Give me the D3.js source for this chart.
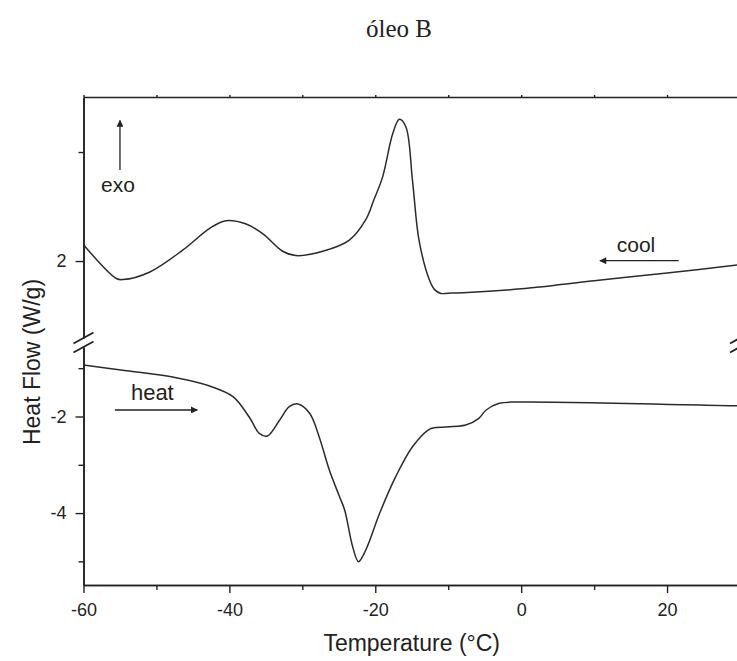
<!DOCTYPE html>
<html>
<head>
<meta charset="utf-8">
<script src="https://cdn.jsdelivr.net/npm/d3@7"></script>
<style>
  body { margin: 0; background: #fff; }
  svg { display: block; }
  text { font-family: "Liberation Sans", Arial, sans-serif; fill: #222; }
</style>
</head>
<body>
<svg id="chart" width="737" height="661"></svg>
<script>
// DSC thermogram of "óleo B": cooling run (upper panel) and heating run (lower panel)
const coolTemp = [-60, -55.5, -54.6, -50.9, -46.4, -42.7, -40.5, -37.7, -35.4, -32.7, -30.9, -27.2,
                  -23.6, -21.3, -20.2, -19.0, -17.6, -16.7, -15.8, -14.9, -14.0, -12.6, -11.9, -11.0,
                  -10, -8, 0, 10, 20, 30];
const coolFlow = [2.15, 1.84, 1.83, 1.90, 2.10, 2.30, 2.37, 2.34, 2.25, 2.09, 2.05, 2.09,
                  2.19, 2.38, 2.56, 2.77, 3.17, 3.30, 3.23, 2.74, 2.19, 1.83, 1.74, 1.703,
                  1.705, 1.71, 1.745, 1.82, 1.89, 1.967];

const heatTemp = [-60, -54.1, -47.3, -42.7, -39.5, -37.2, -35.9, -34.8, -33.1, -31.8, -30.6, -29.0,
                  -27.7, -26.3, -24.9, -24.2, -23.1, -22.3, -21.3, -19.4, -17.2, -14.9, -12.6, -11.9,
                  -7.6, -5.8, -4.8, -3.0, -0.7, 28.7, 30];
const heatFlow = [-0.934, -1.052, -1.197, -1.369, -1.590, -2.031, -2.348, -2.404, -2.072, -1.797, -1.741, -1.934,
                  -2.418, -3.108, -3.660, -3.936, -4.696, -5.006, -4.764, -4.004, -3.246, -2.625, -2.265, -2.232,
                  -2.176, -2.037, -1.865, -1.727, -1.700, -1.776, -1.78];

const xMajorTicks = [-60, -40, -20, 0, 20];
const xMinorTicks = [-50, -30, -10, 10];
const upperMajorTicks = [2];
const upperMinorTicks = [3];
const lowerMajorTicks = [-2, -4];
const lowerMinorTicks = [-1, -3, -5];

const svg = d3.select("#chart");
const plotLeft = 83.5, plotRight = 740, plotTop = 97, plotBottom = 585;
const breakTop = 338, breakBottom = 347;
const ink = "#222";

const x = d3.scaleLinear().domain([-60, 30]).range([plotLeft, plotRight]);
const yUp = d3.scaleLinear().domain([1.294, 3.505]).range([breakTop, plotTop]);
const yLow = d3.scaleLinear().domain([-5.489, -0.561]).range([plotBottom, breakBottom]);

const fmt = d => String(d);

function styleAxis(g) {
  g.selectAll("path.domain").attr("stroke", ink).attr("stroke-width", 1.6);
  g.selectAll(".tick line").attr("stroke", ink).attr("stroke-width", 1.4);
  g.selectAll(".tick text").style("font-size", "18px").attr("fill", ink);
}

// bottom axis
svg.append("g").attr("transform", `translate(0,${plotBottom})`)
  .call(d3.axisBottom(x).tickValues(xMajorTicks).tickFormat(fmt).tickSize(8).tickSizeOuter(0).tickPadding(10))
  .call(styleAxis);
svg.append("g").attr("transform", `translate(0,${plotBottom})`)
  .call(d3.axisBottom(x).tickValues(xMinorTicks).tickFormat("").tickSize(5).tickSizeOuter(0))
  .call(styleAxis);
// top frame line
svg.append("g").attr("transform", `translate(0,${plotTop})`)
  .call(d3.axisTop(x).tickValues(xMajorTicks.concat(xMinorTicks)).tickFormat("").tickSize(2).tickSizeOuter(0))
  .call(styleAxis);

// left axis, two segments, plus right frame with inward ticks
[[yUp, upperMajorTicks, upperMinorTicks], [yLow, lowerMajorTicks, lowerMinorTicks]].forEach(([s, maj, min]) => {
  svg.append("g").attr("transform", `translate(${plotLeft},0)`)
    .call(d3.axisLeft(s).tickValues(maj).tickFormat(fmt).tickSize(8).tickSizeOuter(0).tickPadding(9))
    .call(styleAxis);
  svg.append("g").attr("transform", `translate(${plotLeft},0)`)
    .call(d3.axisLeft(s).tickValues(min).tickFormat("").tickSize(5).tickSizeOuter(0))
    .call(styleAxis);
  svg.append("g").attr("transform", `translate(${plotRight},0)`)
    .call(d3.axisLeft(s).tickValues(maj).tickFormat("").tickSize(-8).tickSizeOuter(0))
    .call(styleAxis);
  svg.append("g").attr("transform", `translate(${plotRight},0)`)
    .call(d3.axisLeft(s).tickValues(min).tickFormat("").tickSize(-5).tickSizeOuter(0))
    .call(styleAxis);
});

// axis break marks
[plotLeft, plotRight].forEach(bx => {
  [breakTop, breakBottom].forEach(by => {
    svg.append("line")
      .attr("x1", bx - 10).attr("y1", by + 5.5)
      .attr("x2", bx + 10).attr("y2", by - 5.5)
      .attr("stroke", ink).attr("stroke-width", 1.8);
  });
});

// curves (centripetal Catmull-Rom keeps the trace smooth through the peaks)
const coolLine = d3.line().x(d => x(d[0])).y(d => yUp(d[1])).curve(d3.curveCatmullRom.alpha(0.5));
const heatLine = d3.line().x(d => x(d[0])).y(d => yLow(d[1])).curve(d3.curveCatmullRom.alpha(0.5));

svg.append("path")
  .datum(d3.zip(coolTemp, coolFlow))
  .attr("d", coolLine).attr("fill", "none").attr("stroke", "#2b2b2b").attr("stroke-width", 1.5);
svg.append("path")
  .datum(d3.zip(heatTemp, heatFlow))
  .attr("d", heatLine).attr("fill", "none").attr("stroke", "#2b2b2b").attr("stroke-width", 1.5);

// arrow heads
const defs = svg.append("defs");
defs.append("marker").attr("id", "head")
  .attr("viewBox", "0 0 10 10").attr("refX", 9).attr("refY", 5)
  .attr("markerUnits", "userSpaceOnUse").attr("markerWidth", 9).attr("markerHeight", 7)
  .attr("orient", "auto")
  .append("path").attr("d", "M0,0 L10,5 L0,10 Z").attr("fill", ink);

function arrow(x1, y1, x2, y2) {
  svg.append("line")
    .attr("x1", x1).attr("y1", y1).attr("x2", x2).attr("y2", y2)
    .attr("stroke", ink).attr("stroke-width", 1.3)
    .attr("marker-end", "url(#head)");
}

// exo marker (upper panel)
arrow(x(-55), yUp(2.835), x(-55), yUp(3.29));
svg.append("text").attr("x", x(-57.6)).attr("y", yUp(2.633))
  .style("font-size", "21px").text("exo");

// cool annotation (upper panel)
arrow(x(21.6), yUp(2.003), x(10.8), yUp(2.003));
svg.append("text").attr("x", x(13.1)).attr("y", yUp(2.085))
  .style("font-size", "21px").text("cool");

// heat annotation (lower panel)
arrow(x(-55.7), yLow(-1.865), x(-44.4), yLow(-1.865));
svg.append("text").attr("x", x(-53.5)).attr("y", yLow(-1.659))
  .style("font-size", "22px").text("heat");

// titles
svg.append("text").attr("x", 399).attr("y", 37).attr("text-anchor", "middle")
  .style("font-family", "'Liberation Serif', 'Times New Roman', serif").style("font-size", "25px")
  .attr("fill", "#111").text("óleo B");

svg.append("text").attr("x", 411.7).attr("y", 651).attr("text-anchor", "middle")
  .style("font-size", "23px").text("Temperature (°C)");

svg.append("text").attr("transform", "translate(40,362) rotate(-90)").attr("text-anchor", "middle")
  .style("font-size", "23px").text("Heat Flow (W/g)");
</script>
</body>
</html>
